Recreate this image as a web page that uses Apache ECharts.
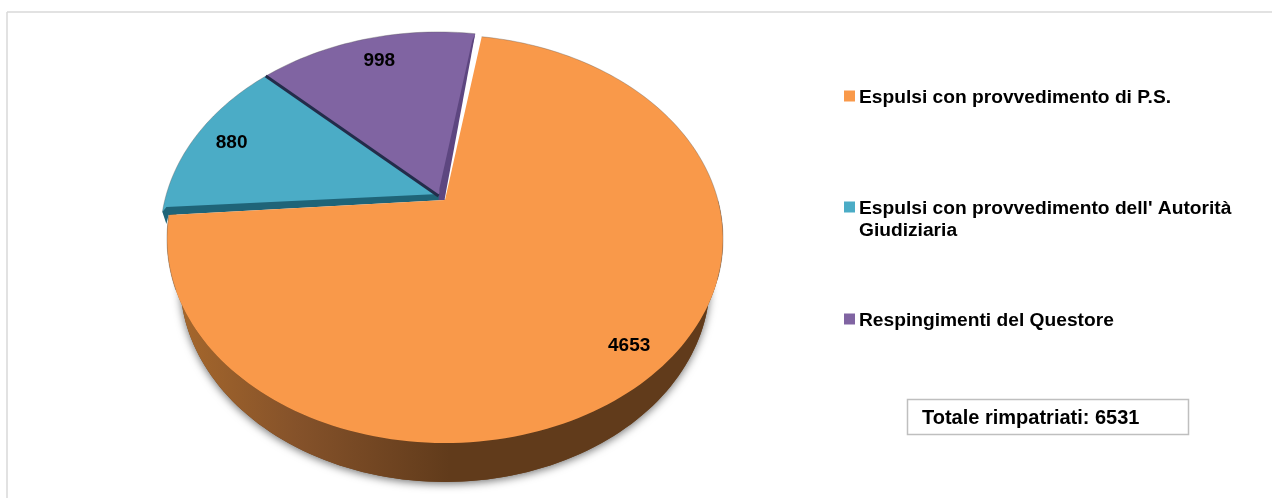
<!DOCTYPE html>
<html><head><meta charset="utf-8">
<style>html,body{margin:0;padding:0;background:#fff}#c{width:1272px;height:498px}</style>
<script src="https://cdn.jsdelivr.net/npm/echarts@6/dist/echarts.min.js"></script>
</head><body><div id="c"></div>
<script>
const categories = ["Espulsi con provvedimento di P.S.", "Espulsi con provvedimento dell' Autorità\nGiudiziaria", "Respingimenti del Questore"];
const values = [4653, 880, 998];
const colors = ["#F9994A", "#4BACC6", "#8064A2"];
const bevelColors = ["#6b421d", "#1f6478", "#5d4680"];
const totalLabel = "Totale rimpatriati: 6531";

const total = values.reduce((a, b) => a + b, 0);
const FONT = '"Liberation Sans", Arial, sans-serif';
const START = 9.2;                    // clockwise degrees from 12 o'clock
const K = -0.191, A = 272.9, B = 196.6; // perspective of the tilted disc
const APEX = [{x: 445, y: 200}, {x: 438.5, y: 197}, {x: 438.5, y: 197}];
const LABEL_R = [0.875, 0.855, 0.842];
const LABEL_SHIFT = [0, 0.5, 1];

// perspective projection of a disc point (r, deg) onto the page
function proj(apex, deg, r) {
  const t = deg * Math.PI / 180, x = r * Math.sin(t), y = -r * Math.cos(t), w = 1 + K * y;
  return [apex.x + A * x / w, apex.y + B * y / w];
}
// the same point on the underside of the disc
function under(p) {
  return [445 + (p[0] - 445) * 0.953, 238 + 42 + (p[1] - 238) * 0.985];
}
function arc(apex, a0, a1) {
  const n = Math.max(8, Math.ceil(Math.abs(a1 - a0) / 1.5)), pts = [];
  for (let i = 0; i <= n; i++) pts.push(proj(apex, a0 + (a1 - a0) * i / n, 1));
  return pts;
}
function spans() {
  let a = START;
  return values.map(v => { const s = [a, a + v / total * 360]; a = s[1]; return s; });
}
const RIM = {fill: null, stroke: 'rgba(90,90,90,0.35)', lineWidth: 1};

function renderItem(params, api) {
  const i = params.dataIndex, all = spans(), s = all[i], apex = APEX[i];
  const rim = arc(apex, s[0], s[1]);
  const c0 = rim[0], c1 = rim[rim.length - 1], P = [apex.x, apex.y];
  const O = [APEX[0].x, APEX[0].y], Oc = proj(APEX[0], all[0][1], 1);
  const kids = [];
  if (i === 0) {
    const front = arc(apex, 90, 270), low = front.map(under);
    kids.push({type: 'polygon', z2: 1, shape: {points: low},
      style: {fill: '#6b421d', shadowColor: 'rgba(0,0,0,0.55)', shadowBlur: 9, shadowOffsetX: 0, shadowOffsetY: 2}});
    kids.push({type: 'polygon', z2: 2, shape: {points: front.concat(low.slice().reverse())},
      style: {fill: new echarts.graphic.LinearGradient(170, 0, 450, 0, [
        {offset: 0, color: '#a8692c'}, {offset: 0.45, color: '#85522a'}, {offset: 1, color: '#613b1b'}], true)}});
    kids.push({type: 'polygon', z2: 6, shape: {points: [P].concat(rim)}, style: {fill: colors[0]}});
    kids.push({type: 'polyline', z2: 7, shape: {points: arc(apex, s[0], 112)}, style: RIM});
    kids.push({type: 'polyline', z2: 7, shape: {points: arc(apex, 245, s[1])}, style: RIM});
  } else {
    kids.push({type: 'polygon', z2: 3, shape: {points: [P].concat(rim)}, style: {fill: colors[i]}});
    kids.push({type: 'polyline', z2: 3, shape: {points: rim}, style: RIM});
    if (i === 1) {
      // bevel along the blue slice's lower edge, closing onto the orange slice
      kids.push({type: 'polygon', z2: 4, shape: {points: [c0, Oc, O, [P[0], P[1] - 3], [c0[0] + 4, c0[1] - 5]]},
        style: {fill: bevelColors[1]}});
      kids.push({type: 'polygon', z2: 4, shape: {points: [c0, [c0[0] + 4, c0[1] + 12], [c0[0] + 7, c0[1]]]},
        style: {fill: bevelColors[1]}});
      kids.push({type: 'line', z2: 5, shape: {x1: c1[0], y1: c1[1], x2: P[0], y2: P[1] - 1},
        style: {stroke: '#232c4a', lineWidth: 3}});
    } else {
      // bevel along the purple slice's right edge
      kids.push({type: 'polygon', z2: 4, shape: {points: [c1, [P[0] + 6, P[1] + 3], [P[0], P[1] + 3], [P[0] + 1, P[1] - 9], [c1[0] - 3, c1[1] + 7]]},
        style: {fill: bevelColors[2]}});
    }
  }
  const mid = proj(apex, (s[0] + s[1]) / 2 + LABEL_SHIFT[i], LABEL_R[i]);
  kids.push({type: 'text', z2: 9, style: {text: String(api.value(0)), x: mid[0], y: mid[1] + 1,
    fill: '#000', font: 'bold 19px ' + FONT, align: 'center', verticalAlign: 'middle'}});
  return {type: 'group', children: kids};
}

const legendRows = [96, 207, 319];
const graphic = [
  {type: 'line', z: 0, shape: {x1: 7, y1: 12, x2: 1272, y2: 12}, style: {stroke: '#d9d9d9', lineWidth: 1.5}},
  {type: 'line', z: 0, shape: {x1: 7, y1: 12, x2: 7, y2: 498}, style: {stroke: '#d9d9d9', lineWidth: 1.5}},
  {type: 'rect', z: 10, shape: {x: 907.5, y: 399.5, width: 281, height: 35}, style: {fill: '#fff', stroke: '#bfbfbf', lineWidth: 1.5}},
  {type: 'text', z: 11, x: 922, y: 418, style: {text: totalLabel, font: 'bold 20px ' + FONT, fill: '#000', verticalAlign: 'middle'}}
];
categories.forEach((c, i) => {
  graphic.push({type: 'rect', z: 10, shape: {x: 844, y: legendRows[i] - 5.5, width: 11, height: 11}, style: {fill: colors[i]}});
  graphic.push({type: 'text', z: 10, x: 859, y: legendRows[i] - 9, style: {text: c, font: 'bold 19.2px ' + FONT, fill: '#000', lineHeight: 22, verticalAlign: 'top'}});
});

const chart = echarts.init(document.getElementById('c'), null, {renderer: 'canvas'});
chart.setOption({
  animation: false,
  backgroundColor: '#fff',
  graphic: graphic,
  series: [{
    type: 'custom', coordinateSystem: 'none', z: 5, silent: true,
    renderItem: renderItem,
    data: values.map((v, i) => ({name: categories[i], value: [v]}))
  }]
});
</script></body></html>
